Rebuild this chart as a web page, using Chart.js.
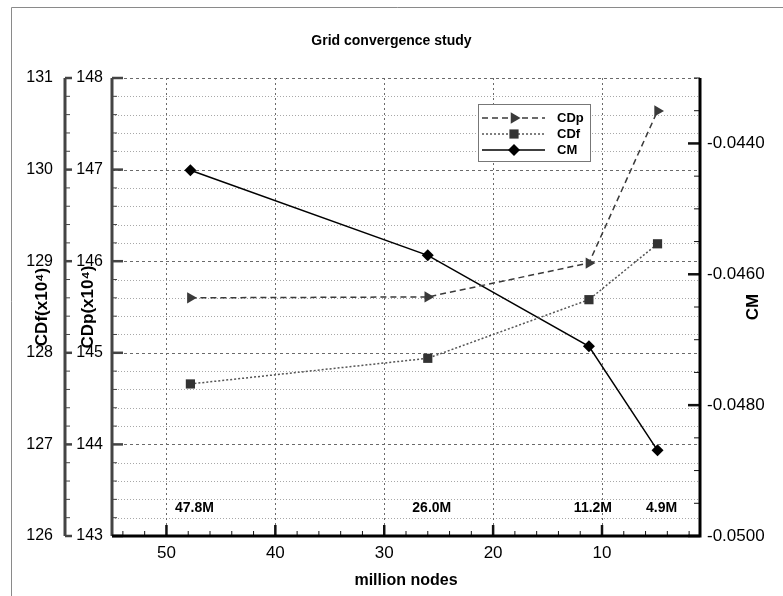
<!DOCTYPE html>
<html>
<head>
<meta charset="utf-8">
<title>Grid convergence study</title>
<script src="https://cdn.jsdelivr.net/npm/chart.js@4/dist/chart.umd.min.js"></script>
<style>
    body { margin: 0; background: #fff; }
    canvas { display: block; }
</style>
</head>
<body>
<canvas id="gridStudy" width="783" height="596"></canvas>
<script>
// Mesh size in million nodes, one entry per grid
const nodes = [47.8, 26.0, 11.2, 4.9];

// Coefficients on each grid
const cdpValues = [145.60, 145.61, 145.98, 147.64];   // CDp x 10^4
const cdfValues = [127.66, 127.94, 128.58, 129.19];   // CDf x 10^4
const cmValues = [-0.04441, -0.04571, -0.04710, -0.04869];

// Axis ticks
const xTicks = [10, 20, 30, 40, 50];
const cdfTicks = [126, 127, 128, 129, 130, 131];
const cdpTicks = [143, 144, 145, 146, 147, 148];
const cmTicks = [-0.0500, -0.0480, -0.0460, -0.0440];

const FONT = "'Liberation Sans', Arial, Helvetica, sans-serif";

function toPoints(ys) {
    return nodes.map((n, i) => ({ x: n, y: ys[i] }));
}

function setTicks(values) {
    return (scale) => { scale.ticks = values.map(v => ({ value: v })); };
}

// Grid lines, tick marks and axis lines drawn from the scales
const axesPlugin = {
    id: "axesPlugin",
    beforeDatasetsDraw(chart) {
        const { ctx, chartArea: a, scales } = chart;
        const x = scales.x, yp = scales.yCDp, yf = scales.yCDf, ym = scales.yCM;
        ctx.save();

        // page frame
        ctx.strokeStyle = "#8a8a8a";
        ctx.lineWidth = 1;
        ctx.beginPath();
        ctx.moveTo(11.5, 596);
        ctx.lineTo(11.5, 7.5);
        ctx.lineTo(783, 7.5);
        ctx.stroke();

        // horizontal grid, every 0.2 of CDp
        for (let k = 0; k <= 25; k++) {
            const py = Math.round(yp.getPixelForValue(cdpTicks[0] + k * 0.2)) + 0.5;
            const major = k % 5 === 0;
            ctx.strokeStyle = major ? "#6a6a6a" : "#a8a8a8";
            ctx.setLineDash(major ? [3, 3] : [1, 2]);
            ctx.beginPath();
            ctx.moveTo(a.left, py);
            ctx.lineTo(a.right, py);
            ctx.stroke();
        }

        // vertical grid at major x ticks
        ctx.strokeStyle = "#6a6a6a";
        ctx.setLineDash([2, 3]);
        xTicks.forEach(v => {
            const px = Math.round(x.getPixelForValue(v)) + 0.5;
            ctx.beginPath();
            ctx.moveTo(px, a.top);
            ctx.lineTo(px, a.bottom);
            ctx.stroke();
        });
        ctx.setLineDash([]);

        // bottom axis ticks
        ctx.strokeStyle = "#111";
        for (let v = 2; v <= 54; v += 2) {
            const px = x.getPixelForValue(v);
            const major = v % 10 === 0;
            ctx.lineWidth = major ? 2.5 : 1;
            ctx.beginPath();
            ctx.moveTo(px, a.bottom);
            ctx.lineTo(px, a.bottom - (major ? 11 : 5));
            ctx.stroke();
        }

        // inner left axis (CDp) ticks
        ctx.strokeStyle = "#444";
        for (let k = 0; k <= 25; k++) {
            const py = yp.getPixelForValue(cdpTicks[0] + k * 0.2);
            const major = k % 5 === 0;
            ctx.lineWidth = major ? 2.5 : 1;
            ctx.beginPath();
            ctx.moveTo(a.left, py);
            ctx.lineTo(a.left + (major ? 11 : 5), py);
            ctx.stroke();
        }

        // outer left axis (CDf)
        const fx = yf.right;
        for (let k = 0; k <= 25; k++) {
            const py = yf.getPixelForValue(cdfTicks[0] + k * 0.2);
            const major = k % 5 === 0;
            ctx.lineWidth = major ? 2.5 : 1;
            ctx.beginPath();
            ctx.moveTo(fx, py);
            ctx.lineTo(fx + (major ? 7 : 5), py);
            ctx.stroke();
        }
        ctx.lineWidth = 3;
        ctx.beginPath();
        ctx.moveTo(fx, yf.getPixelForValue(131));
        ctx.lineTo(fx, yf.getPixelForValue(126));
        ctx.stroke();

        // right axis (CM) ticks, every 0.0005
        ctx.strokeStyle = "#111";
        for (let k = 0; k <= 14; k++) {
            const py = ym.getPixelForValue(cmTicks[0] + k * 0.0005);
            const major = k % 4 === 0;
            ctx.lineWidth = major ? 2.5 : 1;
            ctx.beginPath();
            ctx.moveTo(a.right, py);
            ctx.lineTo(a.right - (major ? 12 : 6), py);
            ctx.stroke();
        }

        // axis lines around the plot
        ctx.lineWidth = 3;
        ctx.strokeStyle = "#444";
        ctx.beginPath();
        ctx.moveTo(a.left, a.top);
        ctx.lineTo(a.left, a.bottom);
        ctx.stroke();
        ctx.strokeStyle = "#000";
        ctx.beginPath();
        ctx.moveTo(a.left, a.bottom);
        ctx.lineTo(a.right, a.bottom);
        ctx.lineTo(a.right, a.top);
        ctx.stroke();

        // right axis title
        ctx.fillStyle = "#000";
        ctx.font = "bold 17px " + FONT;
        ctx.textAlign = "center";
        ctx.textBaseline = "middle";
        ctx.translate(753, (a.top + a.bottom) / 2);
        ctx.rotate(-Math.PI / 2);
        ctx.fillText("CM", 0, 0);
        ctx.restore();
    },
    afterDatasetsDraw(chart) {
        const { ctx, scales } = chart;
        ctx.save();

        // grid size labels along the bottom
        ctx.fillStyle = "#000";
        ctx.font = "bold 14px " + FONT;
        ctx.textAlign = "center";
        ctx.textBaseline = "middle";
        const ly = scales.yCDp.getPixelForValue(143.3);
        nodes.forEach(n => {
            ctx.fillText(n.toFixed(1) + "M", scales.x.getPixelForValue(n) + 4, ly);
        });

        // legend box
        const box = { left: 478, top: 104, right: 590, bottom: 161 };
        ctx.fillStyle = "#fff";
        ctx.fillRect(box.left, box.top, box.right - box.left, box.bottom - box.top);
        ctx.strokeStyle = "#777";
        ctx.lineWidth = 1;
        ctx.strokeRect(box.left + 0.5, box.top + 0.5, box.right - box.left, box.bottom - box.top);

        chart.data.datasets.forEach((ds, i) => {
            const ry = 118 + i * 16;
            ctx.strokeStyle = ds.borderColor;
            ctx.lineWidth = ds.borderWidth;
            ctx.setLineDash(ds.borderDash || []);
            ctx.beginPath();
            ctx.moveTo(482, ry);
            ctx.lineTo(545, ry);
            ctx.stroke();
            ctx.setLineDash([]);
            ctx.fillStyle = ds.pointBackgroundColor;
            ctx.strokeStyle = ds.pointBackgroundColor;
            Chart.helpers.drawPoint(ctx, {
                pointStyle: ds.pointStyle,
                rotation: ds.pointRotation || 0,
                radius: ds.pointRadius,
                borderWidth: 0
            }, 514, ry);
            ctx.fillStyle = "#000";
            ctx.font = "bold 13px " + FONT;
            ctx.textAlign = "left";
            ctx.fillText(ds.label, 557, ry);
        });
        ctx.restore();
    }
};

const ctx = document.getElementById("gridStudy").getContext("2d");
new Chart(ctx, {
    type: "line",
    data: {
        datasets: [
            {
                label: "CDp",
                data: toPoints(cdpValues),
                yAxisID: "yCDp",
                borderColor: "#3a3a3a",
                borderWidth: 1.5,
                borderDash: [6, 4],
                pointStyle: "triangle",
                pointRotation: 90,
                pointRadius: 6.5,
                pointBackgroundColor: "#3a3a3a",
                pointBorderWidth: 0
            },
            {
                label: "CDf",
                data: toPoints(cdfValues),
                yAxisID: "yCDf",
                borderColor: "#555",
                borderWidth: 1.5,
                borderDash: [2, 2],
                pointStyle: "rect",
                pointRadius: 6.5,
                pointBackgroundColor: "#333",
                pointBorderWidth: 0
            },
            {
                label: "CM",
                data: toPoints(cmValues),
                yAxisID: "yCM",
                borderColor: "#000",
                borderWidth: 1.5,
                pointStyle: "rectRot",
                pointRadius: 6,
                pointBackgroundColor: "#000",
                pointBorderWidth: 0
            }
        ]
    },
    options: {
        responsive: false,
        animation: false,
        layout: { padding: 0 },
        elements: { line: { tension: 0, fill: false } },
        plugins: {
            legend: { display: false },
            tooltip: { enabled: false },
            title: {
                display: true,
                text: "Grid convergence study",
                color: "#000",
                font: { family: FONT, size: 14, weight: "bold" },
                padding: { top: 33, bottom: 28.2 }
            }
        },
        scales: {
            x: {
                type: "linear",
                reverse: true,
                min: 1,
                max: 55,
                afterBuildTicks: setTicks(xTicks),
                afterFit: (s) => { s.height = 60; },
                grid: { display: false, drawTicks: false },
                border: { display: false },
                ticks: { color: "#000", font: { family: FONT, size: 17 }, padding: 7, maxRotation: 0 },
                title: {
                    display: true,
                    text: "million nodes",
                    color: "#000",
                    font: { family: FONT, size: 16, weight: "bold" },
                    padding: { top: 0, bottom: 6 }
                }
            },
            yCDp: {
                type: "linear",
                position: "left",
                weight: 0,
                min: 143,
                max: 148,
                afterBuildTicks: setTicks(cdpTicks),
                afterFit: (s) => { s.width = 47; },
                grid: { display: false, drawTicks: false },
                border: { display: false },
                ticks: { color: "#000", font: { family: FONT, size: 16 }, padding: 9 },
                title: {
                    display: true,
                    text: "CDp(x10⁴)",
                    color: "#000",
                    font: { family: FONT, size: 17, weight: "bold" },
                    padding: { top: 13, bottom: 0 }
                }
            },
            yCDf: {
                type: "linear",
                position: "left",
                weight: 1,
                min: 126,
                max: 131,
                afterBuildTicks: setTicks(cdfTicks),
                afterFit: (s) => { s.width = 65; },
                grid: { display: false, drawTicks: false },
                border: { display: false },
                ticks: { color: "#000", font: { family: FONT, size: 16 }, padding: 12 },
                title: {
                    display: true,
                    text: "CDf(x10⁴)",
                    color: "#000",
                    font: { family: FONT, size: 17, weight: "bold" },
                    padding: { top: 32, bottom: 0 }
                }
            },
            yCM: {
                type: "linear",
                position: "right",
                min: -0.05,
                max: -0.043,
                afterBuildTicks: setTicks(cmTicks),
                afterFit: (s) => { s.width = 83; },
                grid: { display: false, drawTicks: false },
                border: { display: false },
                ticks: {
                    color: "#000",
                    font: { family: FONT, size: 17 },
                    padding: 7,
                    callback: (v) => v.toFixed(4)
                }
            }
        }
    },
    plugins: [axesPlugin]
});
</script>
</body>
</html>
